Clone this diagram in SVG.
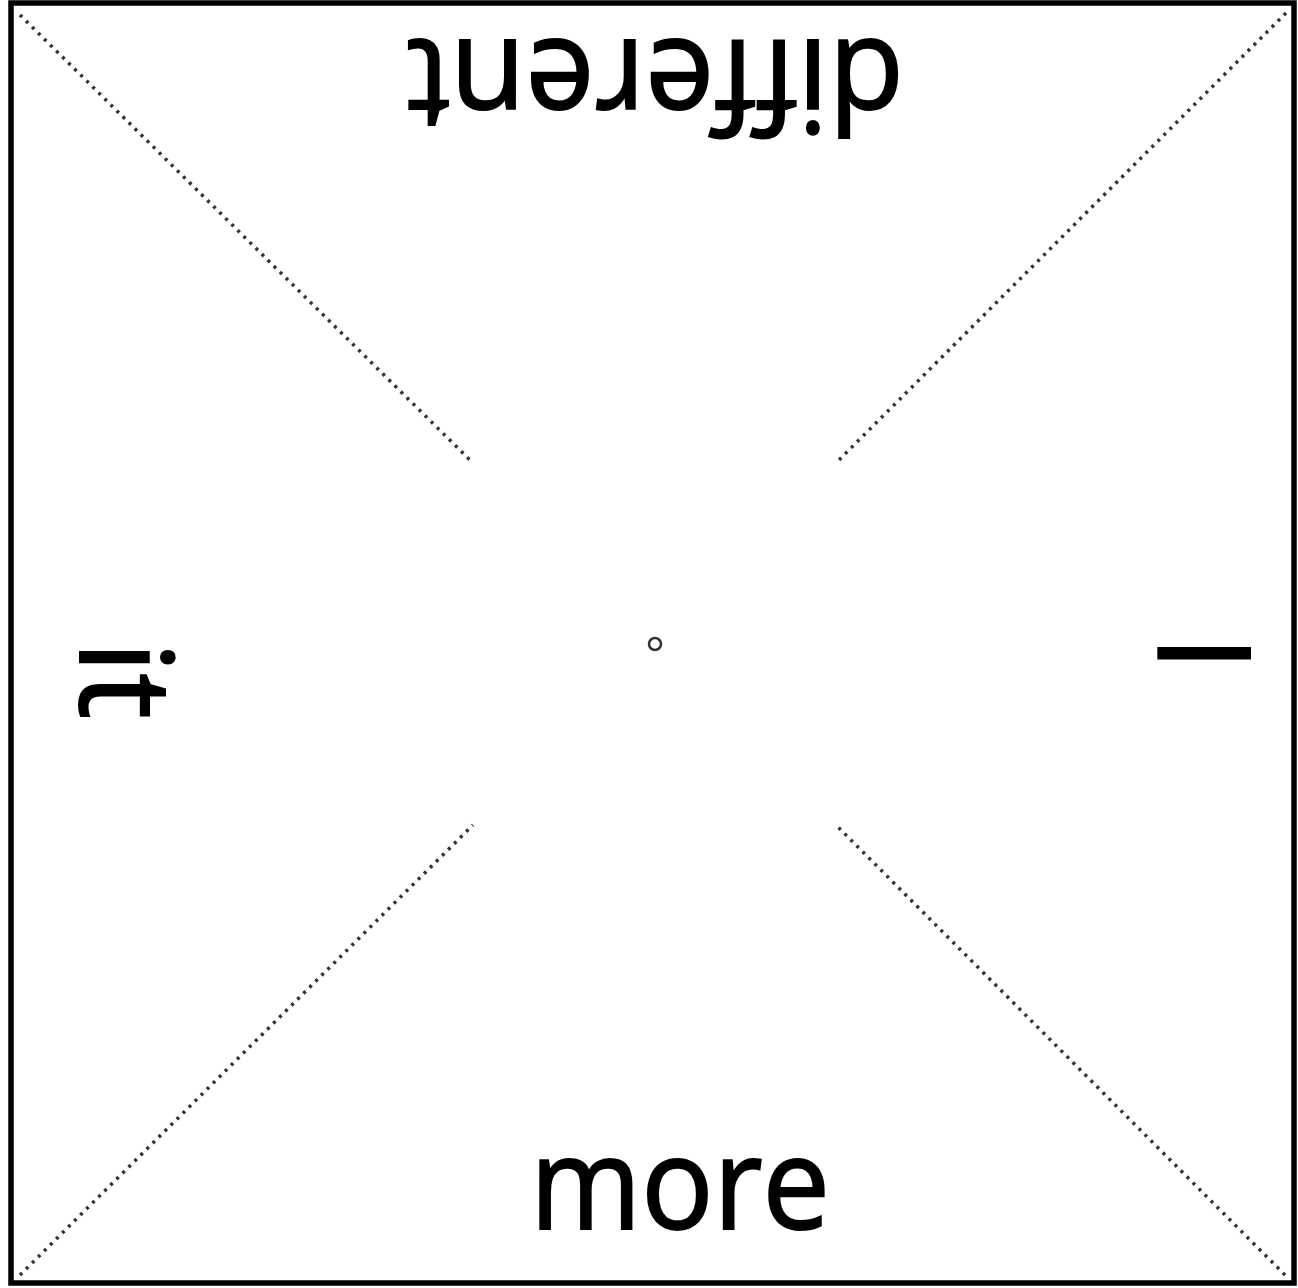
<svg xmlns="http://www.w3.org/2000/svg" width="1298" height="1288" viewBox="0 0 1298 1288">
<style>
.lbl{font-family:"Open Sans","Liberation Sans",sans-serif;font-size:128px;fill:#000;stroke:#000;stroke-width:2;text-anchor:middle}
.dot{stroke:#333;stroke-width:3.5;stroke-dasharray:3 5.5;fill:none}
</style>
<rect x="0" y="0" width="1298" height="1288" fill="#fff"/>
<g id="frame"><rect x="11" y="3" width="1283" height="1280" fill="none" stroke="#000" stroke-width="5.5"/></g>
<g id="connectors">
<line class="dot" x1="20" y1="15" x2="473" y2="463"/>
<line class="dot" x1="1286" y1="13" x2="836" y2="463"/>
<line class="dot" x1="20" y1="1275" x2="473" y2="825"/>
<line class="dot" x1="1285" y1="1275" x2="836" y2="825"/>
</g>
<g id="center"><circle cx="655" cy="644" r="6" fill="none" stroke="#333" stroke-width="2.5"/></g>
<g id="top"><text class="lbl" transform="translate(655,40) rotate(180)" textLength="498" lengthAdjust="spacingAndGlyphs">different</text></g>
<g id="bottom"><text class="lbl" x="680" y="1229" textLength="300" lengthAdjust="spacingAndGlyphs">more</text></g>
<g id="left"><text class="lbl" transform="translate(80,680) rotate(90)">it</text></g>
<g id="right"><text class="lbl" transform="translate(1250,653) rotate(-90)">I</text></g>
</svg>
